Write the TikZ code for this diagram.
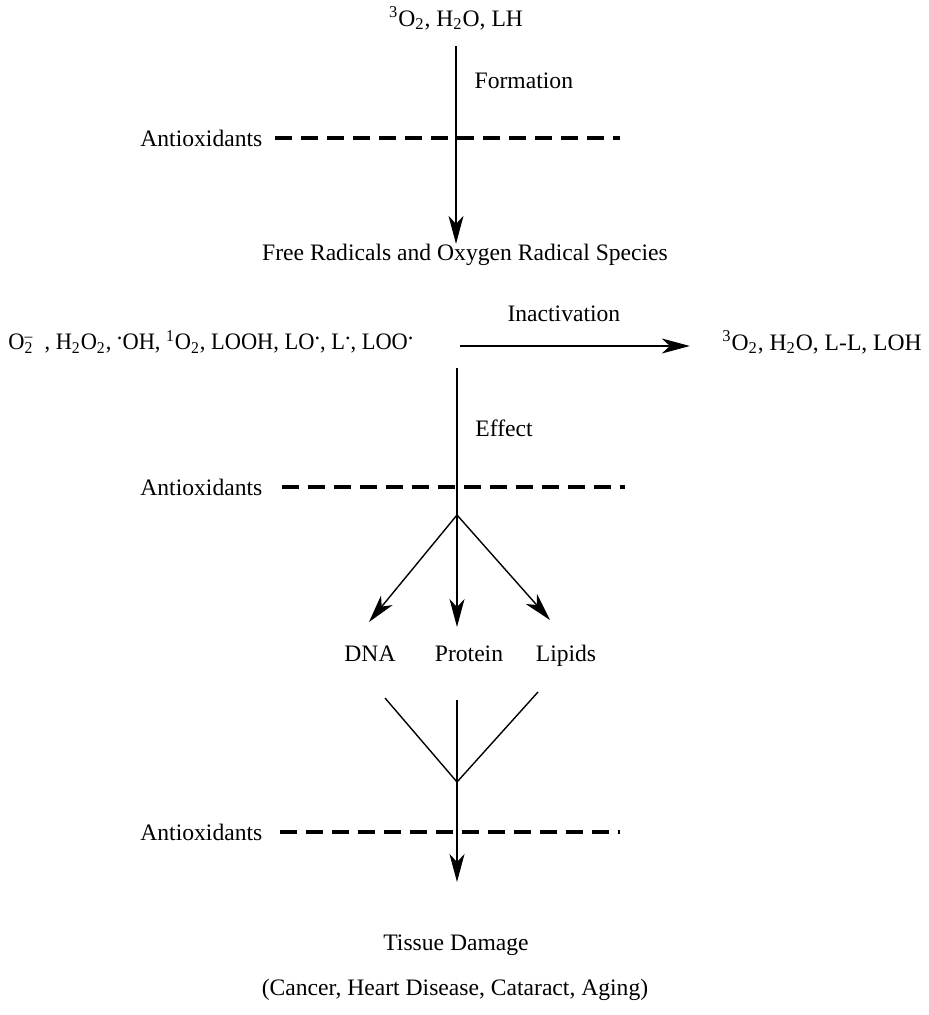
\documentclass[tikz,border=0pt]{standalone}
\usepackage{fontspec}
\setmainfont{Liberation Serif}
\usetikzlibrary{arrows.meta}
\newcommand{\rdot}{\raisebox{0.45em}{.}}

\tikzset{
  txt/.style={inner sep=0pt, font=\fontsize{11.8}{14}\selectfont},
  flow/.style={line width=0.7pt, -{Stealth[length=14pt, width=7.5pt, inset=4pt]}},
  link/.style={line width=0.7pt},
  bar/.style={line width=2pt, dash pattern=on 8.5pt off 4.5pt}
}

\begin{document}
\begin{tikzpicture}[x=0.5pt, y=-0.5pt]
  \path[use as bounding box] (0,0) rectangle (929,1015);

  % Formation
  \node[txt] (src) at (456,18) {\textsuperscript{3}O\textsubscript{2}, H\textsubscript{2}O, LH};
  \node[txt] (frs) at (465,255) {Free Radicals and Oxygen Radical Species};
  \draw[flow] ([yshift=-8pt]src.south) -- (src |- frs.north) node[txt, midway, right=9pt, yshift=32pt] {Formation};

  % Antioxidant barriers
  \foreach \n/\y/\a/\b in {1/138/275/620, 2/487/282/625, 3/832/280/620} {
    \node[txt, anchor=west] (anti\n) at (140,\y) {Antioxidants};
    \draw[bar] (\a,\y) -- (\b,\y);
  }

  % Radical species and inactivation
  \node[txt, anchor=west, xscale=0.95] (rad) at (8,342) {O\rlap{\textsuperscript{--}}\textsubscript{2}\ \ , H\textsubscript{2}O\textsubscript{2}, \rdot OH, \textsuperscript{1}O\textsubscript{2}, LOOH, LO\rdot, L\rdot, LOO\rdot};
  \node[txt] (prod) at (822,342) {\textsuperscript{3}O\textsubscript{2}, H\textsubscript{2}O, L-L, LOH};
  \draw[flow, shorten <=23pt, shorten >=16pt] ([yshift=-2pt]rad.east) -- ([yshift=-2pt]prod.west) node[txt, midway, above=12pt, xshift=-2pt] {Inactivation};

  % Effect
  \coordinate (efx) at (457,368);
  \coordinate (split) at (457,515);
  \node[txt, anchor=west] (eff) at (475,428) {Effect};
  \draw[link] (efx) -- (split);

  % Targets
  \node[txt, anchor=base] (dna) at (370,661) {DNA};
  \node[txt, anchor=base] (prot) at (469,661) {Protein};
  \node[txt, anchor=base] (lip) at (566,661) {Lipids};
  \coordinate (dnaT) at (369,622);
  \coordinate (protT) at (457,627);
  \coordinate (lipT) at (550,620);
  \foreach \t in {dnaT, protT, lipT}
    \draw[flow] (split) -- (\t);

  % Damage
  \coordinate (dnaB) at (385,698);
  \coordinate (protB) at (457,700);
  \coordinate (lipB) at (538,692);
  \coordinate (join) at (457,782);
  \coordinate (tisT) at (457,882);
  \draw[link] (dnaB) -- (join) -- (lipB);
  \draw[flow] (protB) -- (tisT);

  \node[txt] (tis) at (456,945) {Tissue Damage};
  \node[txt] (dis) at (455,990) {(Cancer, Heart Disease, Cataract, Aging)};
\end{tikzpicture}
\end{document}
